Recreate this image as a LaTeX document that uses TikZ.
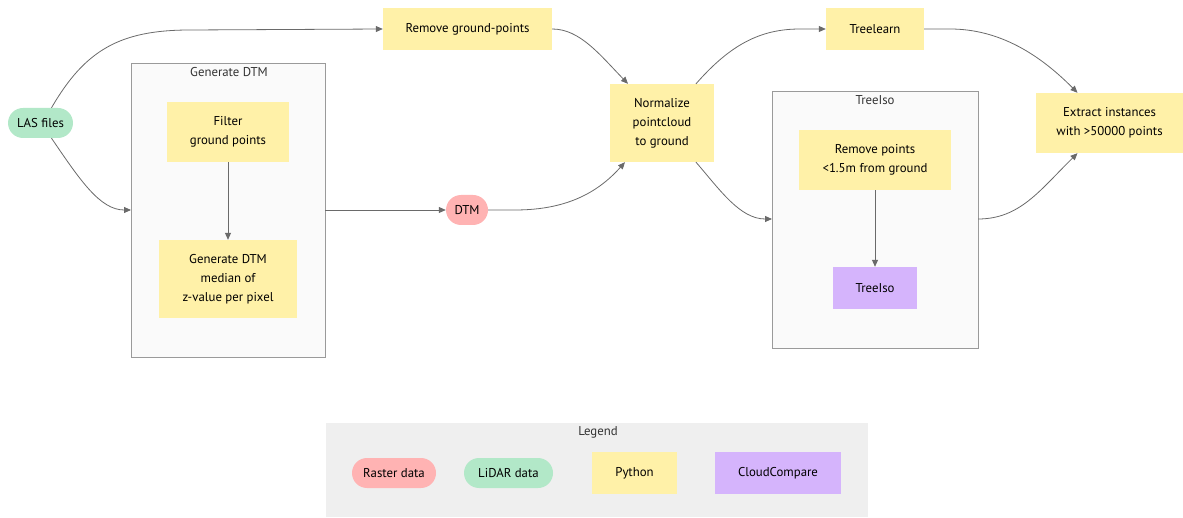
\documentclass[tikz,border=0pt]{standalone}
\usepackage{fontspec}
\setmainfont{PT Sans}
\usetikzlibrary{arrows.meta}
\definecolor{pyyel}{HTML}{FFF1A8}
\definecolor{ccpur}{HTML}{D5B4FC}
\definecolor{rastpink}{HTML}{FFB3B3}
\definecolor{lidgreen}{HTML}{B2E8C8}
\definecolor{clfill}{HTML}{FAFAFA}
\definecolor{clborder}{HTML}{9A9A9A}
\definecolor{legbg}{HTML}{EFEFEF}
\definecolor{edgecol}{HTML}{6A6A6A}
\tikzset{
  x=1pt, y=-1pt,
  lbl/.style={font=\fontsize{12.8}{19}\selectfont, text=black, align=center},
  pybox/.style={lbl, fill=pyyel, draw=none, inner sep=0pt},
  ccbox/.style={lbl, fill=ccpur, draw=none, inner sep=0pt},
  pill/.style={lbl, draw=none, rounded corners=15pt, inner sep=0pt, minimum height=30pt},
  cluster/.style={draw=clborder, fill=clfill, line width=0.8pt},
  ctitle/.style={font=\fontsize{12.8}{15}\selectfont, text=black!80},
  edge/.style={draw=edgecol, line width=0.8pt, -{Triangle[length=7pt,width=6pt]}},
}
\begin{document}
\begin{tikzpicture}
\useasboundingbox (0,0) rectangle (1183,518);
% clusters
\draw[cluster] (131,63) rectangle (325,357);
\node[ctitle] (gdtmt) at (229,72) {Generate DTM};
\coordinate (gdtmL) at (131,210);
\coordinate (gdtmR) at (325,210);
\draw[cluster] (772,91) rectangle (978,348);
\node[ctitle] (tisot) at (875,100) {TreeIso};
\coordinate (tisoL) at (772,219);
\coordinate (tisoR) at (978,219);
% legend
\fill[legbg] (326,423) rectangle (868,517);
\node[ctitle] (legt) at (598,432) {Legend};
\node[pill, fill=rastpink, minimum width=84pt] (lr) at (394,473) {Raster data};
\node[pill, fill=lidgreen, minimum width=89pt] (ll) at (508.5,473) {LiDAR data};
\node[pybox, minimum width=85pt, minimum height=42pt] (lp) at (634.5,473) {Python};
\node[ccbox, minimum width=126pt, minimum height=42pt] (lc) at (778,473) {CloudCompare};
% nodes
\node[pill, fill=lidgreen, minimum width=65pt] (las) at (40.5,123) {LAS files};
\node[pybox, minimum width=122pt, minimum height=60pt] (filt) at (228,132) {Filter\\ground points};
\node[pybox, minimum width=138pt, minimum height=78pt] (gen) at (228,279) {Generate DTM\\median of\\z-value per pixel};
\node[pybox, minimum width=169pt, minimum height=42pt] (rgp) at (467.5,29) {Remove ground-points};
\node[pill, fill=rastpink, minimum width=42pt] (dtm) at (467,210) {DTM};
\node[pybox, minimum width=104pt, minimum height=78pt] (norm) at (662,123) {Normalize\\pointcloud\\to ground};
\node[pybox, minimum width=98pt, minimum height=42pt] (tl) at (875,29) {Treelearn};
\node[pybox, minimum width=152pt, minimum height=60pt] (rp) at (875,160) {Remove points\\<1.5m from ground};
\node[ccbox, minimum width=84pt, minimum height=42pt] (ti) at (875,288) {TreeIso};
\node[pybox, minimum width=147pt, minimum height=60pt] (ext) at (1109.5,123) {Extract instances\\with >50000 points};
% edges
\draw[edge] ([xshift=11pt]las.north) .. controls (85,50) and (120,30) .. (190,30) -- (rgp.west);
\draw[edge] ([xshift=11pt]las.south) .. controls (80,180) and (100,210) .. (gdtmL);
\draw[edge] (filt.south) -- (gen.north);
\draw[edge] (gdtmR) -- (dtm.west);
\draw[edge] (dtm.east) -- (515,210) .. controls (570,210) and (600,190) .. ([xshift=-37pt]norm.south);
\draw[edge] (rgp.east) .. controls (580,29) and (600,55) .. ([xshift=-34pt]norm.north);
\draw[edge] ([xshift=34pt]norm.north) .. controls (730,45) and (760,29) .. (800,29) -- (tl.west);
\draw[edge] ([xshift=34pt]norm.south) .. controls (720,190) and (740,219) .. (tisoL);
\draw[edge] (rp.south) -- (ti.north);
\draw[edge] (tisoR) .. controls (1020,219) and (1040,190) .. ([xshift=-32pt]ext.south);
\draw[edge] (tl.east) -- (950,29) .. controls (1000,29) and (1040,55) .. ([xshift=-32pt]ext.north);
\end{tikzpicture}
\end{document}
